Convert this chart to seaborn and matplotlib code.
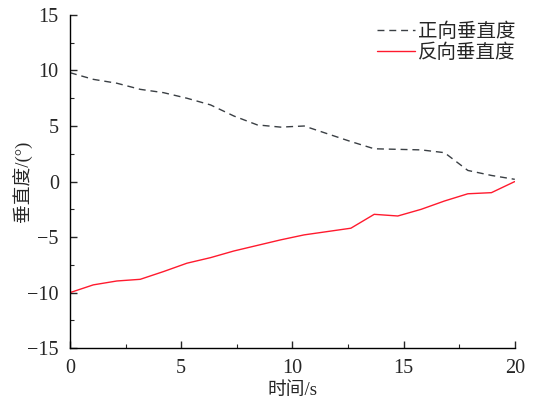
import matplotlib
matplotlib.use("Agg")
import matplotlib.pyplot as plt
import seaborn as sns
import pandas as pd
from matplotlib.ticker import MultipleLocator

# data
time_s = [0.00, 1.05, 2.11, 3.16, 4.21, 5.26, 6.32, 7.37, 8.42, 9.47,
          10.53, 11.58, 12.63, 13.68, 14.74, 15.79, 16.84, 17.89, 18.95, 20.00]
forward = [9.8, 9.2, 8.85, 8.3, 8.0, 7.5, 6.9, 5.9, 5.1, 4.9,
           5.0, 4.3, 3.6, 2.95, 2.9, 2.85, 2.6, 1.0, 0.55, 0.2]
reverse = [-10.0, -9.3, -8.95, -8.8, -8.1, -7.35, -6.85, -6.25, -5.75, -5.25,
           -4.8, -4.5, -4.2, -2.95, -3.1, -2.5, -1.75, -1.1, -1.0, 0.0]
series_names = ["正向垂直度", "反向垂直度"]
x_label = "时间/s"
y_label = "垂直度/(°)"

sns.set_style("ticks")
plt.rcParams['font.family'] = ['Liberation Serif', 'Noto Sans CJK SC']
plt.rcParams['axes.unicode_minus'] = True

df = pd.concat([
    pd.DataFrame({"t": time_s, "v": forward, "s": series_names[0]}),
    pd.DataFrame({"t": time_s, "v": reverse, "s": series_names[1]}),
])

fig = plt.figure(figsize=(5.34, 4.03), dpi=100)
ax = fig.add_axes([0.131, 0.136, 0.833, 0.827])

sns.lineplot(data=df, x="t", y="v", hue="s", style="s",
             palette=["#3a3f44", "#ff1a2e"],
             dashes={series_names[0]: (5, 3.5), series_names[1]: ""},
             linewidth=1.0, ax=ax)

ax.set_xlim(0, 20)
ax.set_ylim(-15, 15)
ax.xaxis.set_major_locator(MultipleLocator(5))
ax.xaxis.set_minor_locator(MultipleLocator(2.5))
ax.yaxis.set_major_locator(MultipleLocator(5))
ax.yaxis.set_minor_locator(MultipleLocator(2.5))
ax.tick_params(which='major', direction='in', length=5, width=1, labelsize=14.5, pad=8)
ax.tick_params(which='minor', direction='in', length=3, width=0.8)
for side in ['top', 'right']:
    ax.spines[side].set_visible(False)
for side in ['left', 'bottom']:
    ax.spines[side].set_linewidth(1.0)
    ax.spines[side].set_color('black')

ax.set_xlabel(x_label, fontsize=13.5)
ax.set_ylabel(y_label, fontsize=13.5)
ax.xaxis.set_label_coords(0.5, -0.126, transform=ax.transAxes)
ax.yaxis.set_label_coords(-0.105, 0.5, transform=ax.transAxes)
ax.xaxis.label.set_va('center')
ax.yaxis.label.set_va('center')

leg = ax.legend(loc='upper right', frameon=False, fontsize=14,
                handlelength=2.0, handletextpad=0.15, labelspacing=0.12,
                borderaxespad=0.0, bbox_to_anchor=(1.02, 1.0))

fig.savefig("out.png", dpi=100)
